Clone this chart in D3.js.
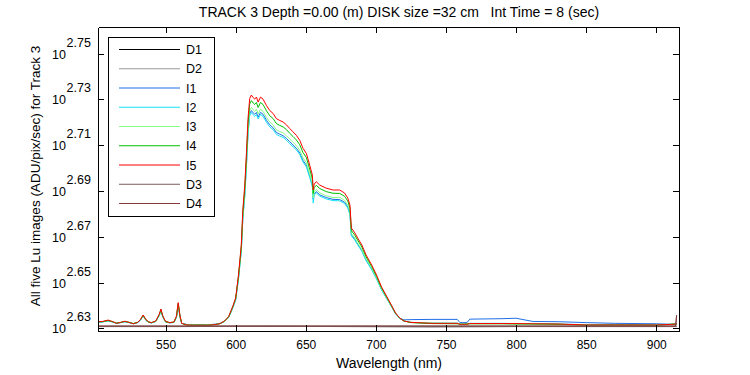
<!DOCTYPE html>
<html>
<head>
<meta charset="utf-8">
<script src="https://cdn.jsdelivr.net/npm/d3@7"></script>
<style>
  body { margin: 0; background: #fff; }
  text { font-family: "Liberation Sans", Arial, sans-serif; fill: #000; }
</style>
</head>
<body>
<div class="chart"></div>
<script>
// wavelength grid (nm) shared by the five Lu image series
var wavelength = [
  502, 505, 509, 512, 515, 518, 521, 524, 527, 530,
  532, 534, 536, 538, 540, 543, 545.5, 546.7, 548, 550,
  553, 556, 557.8, 559, 560.3, 561.5, 565, 570, 575, 580,
  585, 589, 592, 595, 598, 600, 602, 604, 605.1, 606.5,
  607.7, 608.8, 610, 611.2, 612.5, 613.6, 614.8, 616, 617.7, 619.5,
  622, 624.3, 626.7, 629, 631.4, 633.8, 636.2, 638.5, 640.9, 643.3,
  645.7, 648, 650.4, 652.8, 654.7, 655.3, 656, 657.5, 660, 664.6,
  669.4, 674.2, 677.7, 680, 681.5, 682.5, 685, 687, 690, 693,
  697, 700.5, 704, 707.5, 711, 714, 717, 720, 725, 740,
  758, 760, 765, 767, 790, 800, 812, 830, 850, 870,
  900, 910, 913.8, 914.5
];

var i1 = [
  429.3, 429.4, 429.9, 429.4, 428.8, 429.1, 429.5, 429.1, 428.6, 429.1,
  430.1, 432.0, 430.1, 429.2, 429.0, 429.6, 432.2, 434.3, 431.6, 429.4,
  429.0, 429.2, 431.5, 436.8, 431.5, 428.8, 428.3, 428.2, 428.2, 428.2,
  428.4, 428.8, 429.7, 431.4, 435.7, 439.1, 448.5, 461.3, 476.7, 487.9,
  503.2, 519.5, 529.4, 531.1, 529.8, 529.1, 530.1, 527.6, 530.1, 529.1,
  525.9, 523.5, 522.0, 519.5, 518.6, 517.8, 516.4, 514.7, 513.0, 511.3,
  508.9, 505.1, 502.7, 497.2, 492.6, 485.8, 488.4, 489.5, 487.9, 486.6,
  485.7, 485.6, 484.3, 482.0, 478.9, 468.7, 466.6, 464.4, 461.3, 457.0,
  452.8, 448.5, 443.6, 439.9, 436.2, 433.0, 431.0, 430.3, 430.4, 430.5,
  430.5, 429.1, 429.1, 430.6, 430.8, 431.0, 429.6, 429.5, 429.1, 428.8,
  428.6, 428.4, 428.5, 428.5
];

var i2 = [
  429.3, 429.4, 429.9, 429.4, 428.9, 429.1, 429.5, 429.1, 428.7, 429.1,
  430.1, 431.9, 430.1, 429.2, 429.0, 429.6, 432.1, 434.2, 431.5, 429.4,
  429.0, 429.2, 431.4, 436.6, 431.4, 428.8, 428.2, 428.1, 428.1, 428.1,
  428.3, 428.7, 429.6, 431.3, 435.5, 439.0, 448.3, 461.0, 476.1, 487.3,
  502.4, 518.5, 528.3, 530.0, 528.8, 528.0, 529.0, 526.6, 529.0, 528.0,
  524.8, 522.4, 521.0, 518.5, 517.6, 516.9, 515.5, 513.7, 512.1, 510.5,
  508.1, 504.3, 501.9, 496.5, 491.9, 483.9, 487.8, 488.9, 487.3, 485.9,
  485.1, 485.0, 483.7, 481.4, 478.3, 468.3, 466.2, 464.0, 461.0, 456.7,
  452.5, 448.3, 443.5, 439.8, 436.2, 432.9, 430.9, 429.8, 429.2, 428.9,
  428.9, 428.5, 428.5, 428.8, 428.8, 428.7, 428.6, 428.5, 428.2, 428.2,
  428.2, 428.3, 428.4, 428.4
];

var i3 = [
  429.4, 429.5, 430.0, 429.5, 428.9, 429.2, 429.6, 429.2, 428.7, 429.2,
  430.2, 432.1, 430.2, 429.3, 429.1, 429.6, 432.4, 434.5, 431.8, 429.5,
  429.1, 429.3, 431.7, 437.1, 431.7, 428.8, 428.2, 428.1, 428.1, 428.1,
  428.3, 428.7, 429.7, 431.5, 435.9, 439.3, 448.8, 461.8, 477.4, 488.9,
  504.4, 520.9, 531.0, 532.8, 531.5, 530.7, 531.8, 529.2, 531.8, 530.7,
  527.4, 525.0, 523.5, 520.9, 520.0, 519.3, 517.8, 516.1, 514.4, 512.7,
  510.2, 506.4, 503.9, 498.3, 493.6, 486.5, 489.4, 490.5, 488.9, 487.5,
  486.6, 486.7, 485.2, 482.9, 479.7, 469.3, 467.2, 464.9, 461.8, 457.5,
  453.2, 448.8, 443.9, 440.1, 436.3, 433.1, 431.0, 429.8, 429.2, 428.9,
  428.8, 428.5, 428.5, 428.7, 428.7, 428.6, 428.6, 428.4, 428.1, 428.1,
  428.1, 428.3, 428.4, 428.4
];

var i4 = [
  429.4, 429.5, 430.0, 429.5, 428.9, 429.2, 429.6, 429.2, 428.7, 429.2,
  430.3, 432.2, 430.3, 429.3, 429.1, 429.7, 432.6, 434.8, 431.9, 429.5,
  429.1, 429.3, 431.8, 437.5, 431.8, 428.8, 428.1, 428.0, 428.1, 428.0,
  428.2, 428.7, 429.7, 431.6, 436.1, 439.6, 449.5, 463.0, 479.1, 491.0,
  507.0, 524.2, 534.6, 536.4, 535.1, 534.3, 535.4, 532.7, 535.4, 534.3,
  530.9, 528.3, 526.8, 524.2, 523.2, 522.4, 521.0, 519.1, 517.4, 515.6,
  513.1, 509.1, 506.6, 500.7, 495.8, 488.6, 491.5, 492.6, 491.0, 489.5,
  488.7, 488.6, 487.2, 484.8, 481.5, 470.7, 468.5, 466.2, 463.0, 458.5,
  454.0, 449.5, 444.4, 440.5, 436.6, 433.2, 431.0, 429.8, 429.1, 428.7,
  428.6, 428.4, 428.5, 428.6, 428.6, 428.5, 428.5, 428.4, 428.0, 428.1,
  428.0, 428.4, 428.5, 428.5
];

var i5 = [
  429.5, 429.6, 430.2, 429.6, 428.8, 429.2, 429.7, 429.2, 428.6, 429.2,
  430.4, 432.4, 430.4, 429.4, 429.1, 429.8, 432.8, 435.0, 432.0, 429.6,
  429.1, 429.4, 432.0, 437.8, 432.0, 428.8, 428.1, 428.0, 428.0, 428.0,
  428.2, 428.7, 429.8, 431.7, 436.3, 439.9, 450.1, 463.9, 480.5, 492.7,
  509.2, 526.8, 537.5, 539.4, 538.0, 537.2, 538.3, 535.6, 538.3, 537.2,
  533.7, 531.1, 529.5, 526.8, 525.8, 525.0, 523.5, 521.6, 519.8, 518.0,
  515.4, 511.3, 508.7, 502.7, 497.7, 490.3, 493.2, 494.4, 492.7, 491.2,
  490.3, 490.3, 488.8, 486.3, 482.9, 471.9, 469.6, 467.2, 463.9, 459.3,
  454.7, 450.1, 444.8, 440.8, 436.8, 433.3, 431.1, 429.8, 429.2, 428.8,
  428.8, 428.4, 428.4, 428.7, 428.7, 428.7, 428.6, 428.5, 428.1, 428.1,
  428.1, 428.3, 428.5, 428.5
];

// dark frames, on their own coarser grid
var darkWavelength = [502, 560, 620, 680, 740, 800, 860, 913.8, 914.5];
var dark1 = [427.4, 427.4, 427.5, 427.4, 427.3, 427.4, 427.4, 427.4, 427.4];
var dark2 = [427.5, 427.5, 427.5, 427.5, 427.5, 427.5, 427.5, 427.5, 427.5];
var dark3 = [427.6, 427.6, 427.6, 427.6, 427.6, 427.6, 427.6, 427.6, 432.4];
var dark4 = [427.6, 427.6, 427.6, 427.6, 427.6, 427.6, 427.6, 427.6, 432.2];

var seriesNames = ["D1", "D2", "I1", "I2", "I3", "I4", "I5", "D3", "D4"];
var seriesColors = ["#000000", "#999999", "#1f6fe8", "#17e2f5", "#85ff85", "#00c000", "#ff0000", "#7d5a5a", "#833a3a"];

var xTicks = [550, 600, 650, 700, 750, 800, 850, 900];
var yTickExps = ["2.63", "2.65", "2.67", "2.69", "2.71", "2.73", "2.75"];

var titleText = "TRACK 3 Depth =0.00 (m) DISK size =32 cm   Int Time = 8 (sec)";
var xLabel = "Wavelength (nm)";
var yLabel = "All five Lu images (ADU/pix/sec) for Track 3";

var margin = {top: 27, right: 71, bottom: 44, left: 98},
    width = 750 - margin.left - margin.right,
    height = 375 - margin.top - margin.bottom;

var root = d3.select(".chart")
  .append("svg")
    .attr("width", 750)
    .attr("height", 375);

var svg = root.append("g")
    .attr("transform", "translate(" + margin.left + "," + margin.top + ")");

var x = d3.scaleLinear()
  .domain([501.8, 916.2])
  .range([0, width]);

var y = d3.scaleLog()
  .domain([425.5, 577.6])
  .range([height, 0]);

var yTickVals = yTickExps.map(function(e) { return Math.pow(10, +e); });

svg.append("clipPath").attr("id", "plotclip")
  .append("rect").attr("width", width).attr("height", height);

// series, in the order they were plotted
var seriesData = [
  {wl: darkWavelength, v: dark1},
  {wl: darkWavelength, v: dark2},
  {wl: wavelength, v: i1},
  {wl: wavelength, v: i2},
  {wl: wavelength, v: i3},
  {wl: wavelength, v: i4},
  {wl: wavelength, v: i5},
  {wl: darkWavelength, v: dark3},
  {wl: darkWavelength, v: dark4}
];

var line = d3.line()
  .x(function(d) { return x(d[0]); })
  .y(function(d) { return y(d[1]); });

var plot = svg.append("g").attr("clip-path", "url(#plotclip)");

seriesData.forEach(function(s, k) {
  var pts = s.wl.map(function(w, i) { return [w, s.v[i]]; });
  plot.append("path")
    .datum(pts)
    .attr("fill", "none")
    .attr("stroke", seriesColors[k])
    .attr("stroke-width", 1)
    .attr("d", line);
});

// axes box, ticks pointing inward
var gX = svg.append("g")
  .attr("transform", "translate(0," + height + ")")
  .call(d3.axisBottom(x).tickValues(xTicks).tickSize(-6).tickSizeOuter(0).tickPadding(9.5));

var gXTop = svg.append("g")
  .call(d3.axisTop(x).tickValues(xTicks).tickSize(-6).tickSizeOuter(0).tickFormat(""));

var gY = svg.append("g")
  .call(d3.axisLeft(y).tickValues(yTickVals).tickSize(-6).tickSizeOuter(0).tickFormat(""));

var gYRight = svg.append("g")
  .attr("transform", "translate(" + width + ",0)")
  .call(d3.axisRight(y).tickValues(yTickVals).tickSize(-6).tickSizeOuter(0).tickFormat(""));

svg.selectAll(".domain, .tick line")
  .attr("stroke", "#000")
  .attr("stroke-width", 1)
  .attr("shape-rendering", "crispEdges");

gX.selectAll("text")
  .style("font-size", "12px")
  .style("font-family", '"Liberation Sans", Arial, sans-serif')
  .attr("fill", "#000");

// log tick labels: 10 with the exponent raised
yTickExps.forEach(function(e, i) {
  var ty = y(yTickVals[i]);
  svg.append("text")
    .attr("x", -32)
    .attr("y", ty + 5)
    .attr("text-anchor", "end")
    .style("font-size", "12.5px")
    .text("10");
  svg.append("text")
    .attr("x", -31.5)
    .attr("y", ty - 7)
    .attr("text-anchor", "start")
    .style("font-size", "12.5px")
    .text(e);
});

// legend
var legend = svg.append("g")
  .attr("transform", "translate(" + (108.5 - margin.left) + "," + (37.5 - margin.top) + ")");

legend.append("rect")
  .attr("width", 106)
  .attr("height", 179)
  .attr("fill", "#fff")
  .attr("stroke", "#000")
  .attr("stroke-width", 1);

seriesNames.forEach(function(name, i) {
  var ly = 12 + i * 19.25;
  legend.append("line")
    .attr("x1", 10.5).attr("x2", 71.5)
    .attr("y1", ly).attr("y2", ly)
    .attr("stroke", seriesColors[i])
    .attr("stroke-width", 1);
  legend.append("text")
    .attr("x", 77.5)
    .attr("y", ly + 4.5)
    .style("font-size", "12.5px")
    .text(name);
});

// title and axis labels
root.append("text")
  .attr("x", 399)
  .attr("y", 17)
  .attr("text-anchor", "middle")
  .style("font-size", "14px")
  .style("white-space", "pre")
  .text(titleText);

root.append("text")
  .attr("x", 389)
  .attr("y", 368)
  .attr("text-anchor", "middle")
  .style("font-size", "14px")
  .text(xLabel);

root.append("text")
  .attr("transform", "translate(40,176) rotate(-90)")
  .attr("text-anchor", "middle")
  .style("font-size", "13.5px")
  .text(yLabel);
</script>
</body>
</html>
